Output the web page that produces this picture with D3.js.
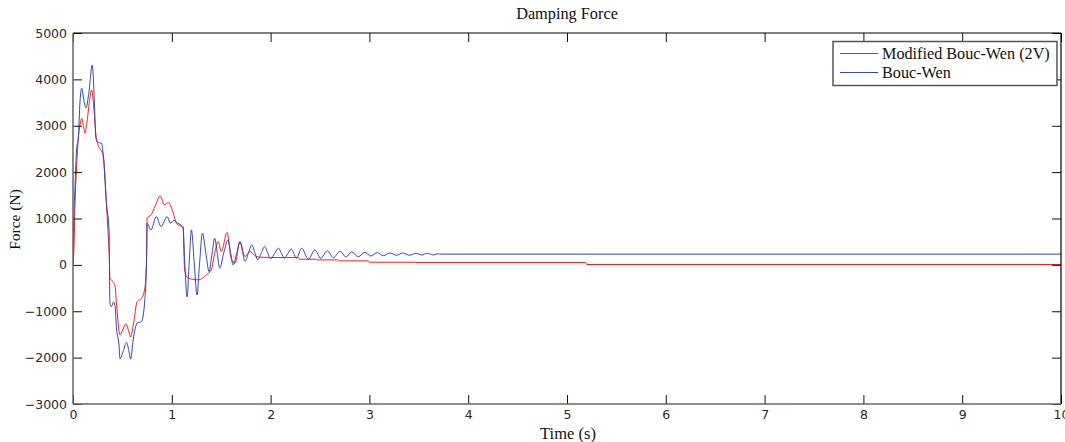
<!DOCTYPE html>
<html>
<head>
<meta charset="utf-8">
<script src="https://cdn.jsdelivr.net/npm/d3@7"></script>
<style>
  html, body { margin: 0; padding: 0; background: #fff; }
  svg { display: block; }
</style>
</head>
<body>
<svg id="chart" width="1065" height="442"></svg>
<script>
// ---- data ----
const xTicks = [0, 1, 2, 3, 4, 5, 6, 7, 8, 9, 10];
const yTicks = [-3000, -2000, -1000, 0, 1000, 2000, 3000, 4000, 5000];
const seriesNames = ["Modified Bouc-Wen (2V)", "Bouc-Wen"];

const modTime = [0, 0.01, 0.02, 0.037, 0.054, 0.07, 0.088, 0.105, 0.121, 0.14, 0.165, 0.189, 0.21, 0.232, 0.26, 0.29, 0.31, 0.34, 0.36, 0.367, 0.374, 0.39, 0.40, 0.424, 0.44, 0.475, 0.505, 0.535, 0.56, 0.583, 0.61, 0.65, 0.694, 0.727, 0.744, 0.75, 0.79, 0.83, 0.882, 0.926, 0.966, 1.01, 1.047, 1.114, 1.13, 1.165, 1.27, 1.35, 1.40, 1.434, 1.47, 1.5, 1.56, 1.6, 1.64, 1.69, 1.74, 1.79, 1.855, 1.9, 2.0, 2.16, 2.28, 2.29, 2.46, 2.47, 2.68, 2.69, 2.99, 3.0, 3.46, 3.47, 5.19, 5.2, 10];
const modForce = [0, 400, 1293, 2155, 2737, 3000, 3161, 3000, 2838, 3050, 3500, 3771, 3400, 2801, 2550, 2442, 2300, 1250, 500, 215, -287, -323, -360, -431, -826, -1508, -1400, -1271, -1400, -1558, -1300, -790, -718, -502, 108, 1006, 1077, 1257, 1487, 1293, 1343, 1149, 898, 790, -108, -287, -323, -215, -108, 251, 502, 287, 697, 144, 36, 502, 180, 287, 180, 165, 160, 158, 158, 122, 122, 108, 108, 86, 86, 57, 57, 50, 50, 8, 8];

const bwTime = [0, 0.005, 0.02, 0.037, 0.054, 0.071, 0.088, 0.11, 0.131, 0.16, 0.195, 0.215, 0.232, 0.25, 0.27, 0.29, 0.306, 0.34, 0.364, 0.374, 0.39, 0.41, 0.425, 0.44, 0.468, 0.475, 0.51, 0.542, 0.565, 0.583, 0.61, 0.65, 0.694, 0.727, 0.745, 0.75, 0.79, 0.842, 0.892, 0.953, 0.985, 1.02, 1.06, 1.1, 1.114, 1.13, 1.155, 1.175, 1.199, 1.225, 1.256, 1.28, 1.31, 1.345, 1.377, 1.405, 1.434, 1.46, 1.485, 1.525, 1.569, 1.595, 1.62, 1.657, 1.69, 1.715, 1.74, 1.775, 1.81, 1.84, 1.87, 1.905, 1.94, 1.97, 2.0, 2.04, 2.08, 2.11, 2.14, 2.175, 2.21, 2.235, 2.26, 2.315, 2.382, 2.449, 2.507, 2.574, 2.635, 2.702, 2.763, 2.821, 2.888, 2.955, 3.013, 3.080, 3.141, 3.209, 3.276, 3.337, 3.404, 3.472, 3.529, 3.586, 3.647, 3.697, 3.72, 10];
const bwForce = [0, 700, 1653, 2500, 2737, 3520, 3808, 3550, 3383, 3700, 4310, 3600, 2737, 2650, 2630, 2620, 2370, 1293, 797, -826, -900, -800, -870, -1358, -1789, -2026, -1850, -1674, -1850, -2033, -1600, -1257, -1221, -754, 108, 898, 754, 1041, 826, 1041, 900, 960, 900, 850, 826, 100, -690, 0, 754, 100, -650, 0, 683, 250, -144, 200, 575, 250, -72, 250, 539, 270, 0, 250, 502, 290, 72, 250, 431, 270, 108, 250, 395, 260, 129, 245, 359, 250, 144, 245, 345, 245, 144, 358, 121, 321, 142, 306, 155, 293, 170, 278, 177, 272, 192, 263, 198, 256, 207, 256, 207, 250, 213, 250, 213, 241, 232, 232];

// ---- layout ----
const svg = d3.select("#chart");
const pL = 73, pR = 1061, pT = 33, pB = 404;

const x = d3.scaleLinear().domain([0, 10]).range([pL, pR]);
const y = d3.scaleLinear().domain([-3000, 5000]).range([pB, pT]);

const tickFont = "'DejaVu Sans', sans-serif";
const serif = "'Liberation Serif', 'Times New Roman', serif";

svg.append("clipPath").attr("id", "clip").append("rect")
  .attr("x", pL).attr("y", pT).attr("width", pR - pL).attr("height", pB - pT);

const line = d3.line().x(d => x(d[0])).y(d => y(d[1])).curve(d3.curveMonotoneX);

const modData = modTime.map((t, i) => [t, modForce[i]]);
const bwData = bwTime.map((t, i) => [t, bwForce[i]]);

const colors = ["#ff1a1a", "#3346b0"];

const g = svg.append("g").attr("clip-path", "url(#clip)");
g.append("path").datum(modData).attr("d", line).attr("fill", "none").attr("stroke", colors[0]).attr("stroke-width", 1);
g.append("path").datum(bwData).attr("d", line).attr("fill", "none").attr("stroke", colors[1]).attr("stroke-width", 1);

// axes
const tickLen = 9;
const xAxis = d3.axisBottom(x).tickValues(xTicks).tickSize(-tickLen).tickPadding(6).tickFormat(d3.format("d"));
const yAxis = d3.axisLeft(y).tickValues(yTicks).tickSize(-tickLen).tickPadding(6).tickFormat(d3.format("d"));
const xAxisTop = d3.axisTop(x).tickValues(xTicks).tickSize(-tickLen).tickFormat("");
const yAxisRight = d3.axisRight(y).tickValues(yTicks).tickSize(-tickLen).tickFormat("");

function styleAxis(sel) {
  sel.select(".domain").remove();
  sel.selectAll(".tick line").attr("stroke", "#111").attr("stroke-width", 1);
  sel.selectAll("text").attr("font-family", tickFont).attr("font-size", 12.5).attr("fill", "#2a2a2a");
}

svg.append("g").attr("transform", `translate(0,${pT})`).call(xAxisTop).call(styleAxis);
svg.append("g").attr("transform", `translate(${pR},0)`).call(yAxisRight).call(styleAxis);
svg.append("g").attr("transform", `translate(0,${pB})`).call(xAxis).call(styleAxis);
svg.append("g").attr("transform", `translate(${pL},0)`).call(yAxis).call(styleAxis);

// frame
svg.append("line").attr("x1", pL).attr("x2", pR).attr("y1", pT).attr("y2", pT).attr("stroke", "#000").attr("stroke-width", 1.2);
svg.append("line").attr("x1", pR).attr("x2", pR).attr("y1", pT).attr("y2", pB).attr("stroke", "#000").attr("stroke-width", 1.2);
svg.append("line").attr("x1", pL).attr("x2", pR).attr("y1", pB).attr("y2", pB).attr("stroke", "#666").attr("stroke-width", 1.5);
svg.append("line").attr("x1", pL).attr("x2", pL).attr("y1", pT).attr("y2", pB).attr("stroke", "#666").attr("stroke-width", 1.5);

// titles
svg.append("text").attr("x", (pL + pR) / 2).attr("y", 19).attr("text-anchor", "middle")
  .attr("font-family", serif).attr("font-size", 16.3).attr("fill", "#111").text("Damping Force");
svg.append("text").attr("x", (pL + pR) / 2 + 1).attr("y", 439).attr("text-anchor", "middle")
  .attr("font-family", serif).attr("font-size", 16.5).attr("fill", "#111").text("Time (s)");
svg.append("text").attr("transform", `translate(20,${(pT + pB) / 2 + 1}) rotate(-90)`).attr("text-anchor", "middle")
  .attr("font-family", serif).attr("font-size", 15.5).attr("fill", "#111").text("Force (N)");

// legend
const lg = svg.append("g");
lg.append("rect").attr("x", 833).attr("y", 41.5).attr("width", 224).attr("height", 44)
  .attr("fill", "#fff").attr("stroke", "#555").attr("stroke-width", 1.5);
seriesNames.forEach((name, i) => {
  const yy = 53.5 + i * 19;
  lg.append("line").attr("x1", 840).attr("x2", 878).attr("y1", yy).attr("y2", yy)
    .attr("stroke", colors[i]).attr("stroke-width", 1);
  lg.append("text").attr("x", 882).attr("y", yy + 5).attr("font-family", serif).attr("font-size", 16.2)
    .attr("fill", "#111").text(name);
});
</script>
</body>
</html>
